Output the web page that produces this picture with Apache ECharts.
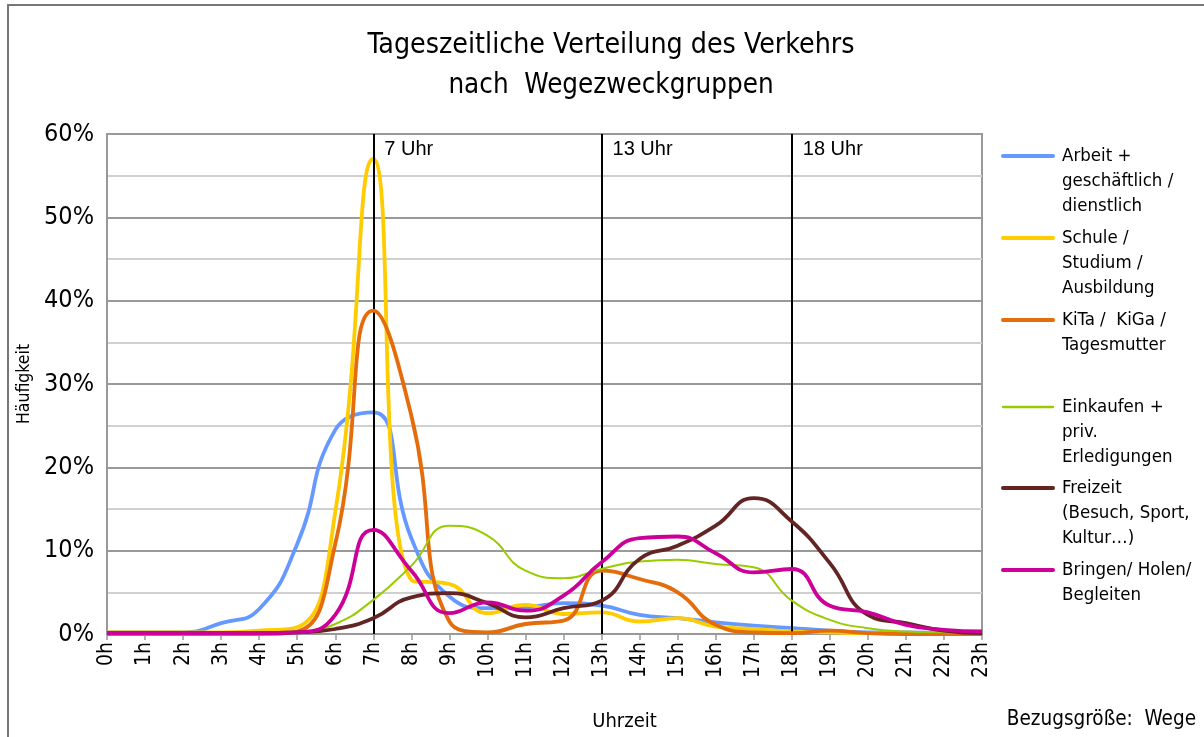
<!DOCTYPE html>
<html>
<head>
<meta charset="utf-8">
<script src="https://cdn.jsdelivr.net/npm/echarts@6/dist/echarts.min.js"></script>
<style>
  html, body { margin: 0; padding: 0; background: #fff; }
  #chart { width: 1204px; height: 737px; }
</style>
</head>
<body>
<div id="chart"></div>
<script>
// Hours of the day (category axis)
const hours = ['0h','1h','2h','3h','4h','5h','6h','7h','8h','9h','10h','11h',
               '12h','13h','14h','15h','16h','17h','18h','19h','20h','21h','22h','23h'];

// Share of trips per hour, in percent, by trip purpose group
const arbeit    = [0.2,0.2,0.2,1.3,3.0,10.8,24.5,26.6,11.5,4.5,3.1,3.2,3.7,3.4,2.3,1.9,1.4,1.0,0.7,0.4,0.2,0.2,0.1,0.1];
const schule    = [0.2,0.2,0.2,0.2,0.4,0.8,14.6,57.0,6.5,6.0,2.5,3.5,2.4,2.6,1.5,1.9,0.9,0.6,0.3,0.2,0.1,0.1,0.1,0.1];
const kita      = [0,0,0,0,0,0.3,10.8,38.8,26.2,1.5,0.2,1.2,1.6,7.6,6.6,5.0,1.1,0.2,0.1,0.4,0.1,0,0,0];
const einkaufen = [0.1,0.1,0.1,0.1,0.1,0.2,1.2,4.1,8.2,13.0,11.8,7.6,6.7,7.8,8.7,8.9,8.4,8.0,4.0,1.7,0.7,0.3,0.2,0.1];
const freizeit  = [0.1,0.1,0.1,0.1,0.1,0.2,0.6,1.9,4.4,4.9,3.7,2.0,3.1,4.0,9.0,10.6,13.0,16.3,13.5,8.5,2.3,1.3,0.4,0.1];
const bringen   = [0.1,0.1,0.1,0.1,0.1,0.2,2.3,12.5,7.6,2.5,3.8,2.8,4.6,8.6,11.5,11.7,9.7,7.4,7.8,3.4,2.6,1.1,0.5,0.3];

// Series names (legend text, with line breaks)
const names = [
  'Arbeit +\ngeschäftlich /\ndienstlich',
  'Schule /\nStudium /\nAusbildung',
  'KiTa /  KiGa /\nTagesmutter',
  'Einkaufen +\npriv.\nErledigungen',
  'Freizeit\n(Besuch, Sport,\nKultur…)',
  'Bringen/ Holen/\nBegleiten'
];
const values = [arbeit, schule, kita, einkaufen, freizeit, bringen];
const colors = ['#6699ff', '#ffcc00', '#e46c0a', '#99cc00', '#632523', '#cc0099'];
const widths = [3.8, 3.8, 3.8, 2, 3.8, 3.8];

// Reference hours marked with vertical lines
const markHours = [7, 13, 18];
const markLabels = ['7 Uhr', '13 Uhr', '18 Uhr'];

const FONT = "'Liberation Sans Narrow','DejaVu Sans Condensed','Noto Sans',sans-serif";

const chart = echarts.init(document.getElementById('chart'), null, { renderer: 'canvas' });

const series = values.map((data, i) => ({
  name: names[i],
  type: 'line',
  data: data,
  smooth: 0.5,
  showSymbol: false,
  symbol: 'none',
  lineStyle: { color: colors[i], width: widths[i] },
  itemStyle: { color: colors[i] },
  z: 3 + i,
  animation: false
}));

// vertical hour markers
series[0].markLine = {
  silent: true,
  symbol: 'none',
  animation: false,
  label: { show: false },
  lineStyle: { color: '#000', width: 2, type: 'solid' },
  data: markHours.map(h => ({ xAxis: hours[h] }))
};

chart.setOption({
  animation: false,
  backgroundColor: '#fff',
  textStyle: { fontFamily: FONT },
  title: {
    text: 'Tageszeitliche Verteilung des Verkehrs',
    subtext: 'nach  Wegezweckgruppen',
    left: 606,
    textAlign: 'center',
    top: 27,
    itemGap: 12,
    textStyle: { fontFamily: FONT, fontSize: 28.3, fontWeight: 'normal', color: '#000' },
    subtextStyle: { fontFamily: FONT, fontSize: 27.5, color: '#000' }
  },
  grid: {
    left: 107, right: 222, top: 134, bottom: 98,
    show: true, borderColor: '#999', borderWidth: 2, backgroundColor: 'transparent'
  },
  xAxis: {
    type: 'category',
    data: hours,
    boundaryGap: false,
    name: 'Uhrzeit',
    nameLocation: 'middle',
    nameGap: 78,
    nameTextStyle: { fontFamily: FONT, fontSize: 20, color: '#000', padding: [0, 0, 0, 160] },
    axisLine: { lineStyle: { color: '#999', width: 2 } },
    axisTick: { show: true, length: 6, lineStyle: { color: '#999', width: 1.5 } },
    axisLabel: { rotate: 90, margin: 8, fontFamily: FONT, fontSize: 21, color: '#000', interval: 0 },
    splitLine: { show: false }
  },
  yAxis: {
    type: 'value',
    min: 0, max: 60, interval: 5,
    name: 'Häufigkeit',
    nameLocation: 'middle',
    nameGap: 63,
    nameTextStyle: { fontFamily: FONT, fontSize: 17.5, color: '#000' },
    axisLine: { show: true, lineStyle: { color: '#999', width: 2 } },
    axisTick: { show: false },
    axisLabel: {
      margin: 13, fontFamily: FONT, fontSize: 25, color: '#000',
      formatter: v => (v % 10 === 0 ? v + '%' : '')
    },
    splitLine: { show: true, lineStyle: { color: ['#999', '#d0d0d0'], width: 2 } }
  },
  series: series
});

// Legend, annotation texts and frame
const graphics = [];
graphics.push({
  type: 'rect', silent: true,
  shape: { x: 8, y: 5, width: 1220, height: 800 },
  style: { fill: null, stroke: '#777', lineWidth: 2 }, z: 0
});
const legendTops = [156, 238, 320, 407, 488, 570];
names.forEach((n, i) => {
  graphics.push({
    type: 'line', silent: true,
    shape: { x1: 1003, y1: legendTops[i], x2: 1053, y2: legendTops[i] },
    style: { stroke: colors[i], lineWidth: widths[i] + 0.3, lineCap: 'round' }
  });
  graphics.push({
    type: 'text', silent: true,
    x: 1062, y: legendTops[i] - 12.5,
    style: {
      text: n, fill: '#000', font: '18.5px ' + FONT,
      lineHeight: 25, verticalAlign: 'top', textAlign: 'left'
    }
  });
});
graphics.push({
  type: 'text', silent: true, x: 1196, y: 720,
  style: { text: 'Bezugsgröße:  Wege', fill: '#000', font: '20.5px ' + FONT,
           textAlign: 'right', verticalAlign: 'middle' }
});
markHours.forEach((h, i) => {
  const p = chart.convertToPixel({ xAxisIndex: 0, yAxisIndex: 0 }, [hours[h], 60]);
  graphics.push({
    type: 'text', silent: true, x: p[0] + 11, y: p[1] + 15,
    style: { text: markLabels[i], fill: '#000', font: "20px 'Liberation Sans', Arial, sans-serif",
             textAlign: 'left', verticalAlign: 'middle' }
  });
});
chart.setOption({ graphic: graphics });
</script>
</body>
</html>
